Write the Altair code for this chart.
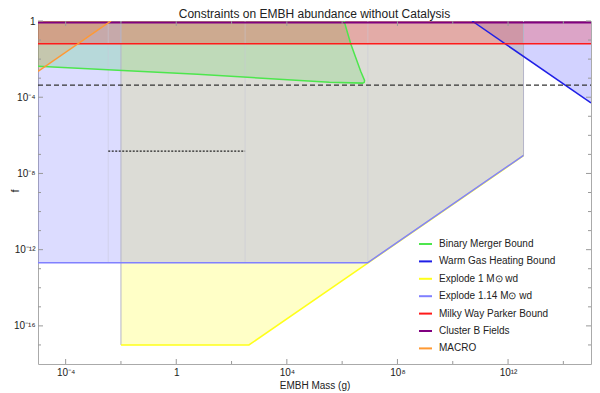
import math
import altair as alt
import pandas as pd

FONT = "Liberation Sans"
TITLE = "Constraints on EMBH abundance without Catalysis"
X_TITLE = "EMBH Mass (g)"
Y_TITLE = "f"

# ---- values (log10 of mass in g, log10 of f) ----
merger_m = [-5.0, 0.77, 5.54, 6.07, 6.31, 6.67, 6.75, 6.81]
merger_lo = [-2.38, -2.80, -3.21, -3.24, -3.25, -3.26, -3.26, -3.15]
merger_hi = [0.0, 0.0, 0.0, 0.0, -1.19, -2.64, -2.97, -3.15]
merger_path_m = [-5.0, 0.77, 5.54, 6.74, 6.80, 6.81, 6.67, 6.31, 6.07]
merger_path_f = [-2.38, -2.80, -3.21, -3.26, -3.22, -3.12, -2.64, -1.19, 0.0]

warm_m = [10.7, 15.0]
warm_f = [0.0, -4.3]

wd1_m = [-2.0, 2.63, 12.56]
wd1_f = [-17.0, -17.0, -7.07]

wd114_m = [-5.0, 6.92, 12.56]
wd114_f = [-12.69, -12.69, -7.05]

mw_m = [-5.0, 15.0]
mw_f = [-1.19, -1.19]

cl_m = [-5.0, 15.0]
cl_f = [-0.09, -0.09]

macro_m = [-5.0, -2.36]
macro_f = [-2.64, 0.0]

dash_m = [-5.0, 15.0]
dash_f = [-3.37, -3.37]

dot_m = [-2.46, 2.49]
dot_f = [-6.83, -6.83]

seam_m = [-2.46, 2.49, 6.93]

series = ["Binary Merger Bound", "Warm Gas Heating Bound", "Explode 1 M\u2299 wd",
          "Explode 1.14 M\u2299 wd", "Milky Way Parker Bound", "Cluster B Fields", "MACRO"]
line_colors = ["#4de64d", "#1f1fe6", "#ffff1a", "#8080ff", "#ff1a1a", "#800080", "#ff9933"]
fill_colors = ["#33ee33", "#3333ff", "#ffff00", "#8080ff", "#ff0000", "#800080", "#ff8000"]
fill_opac = [0.25, 0.22, 0.22, 0.28, 0.22, 0.35, 0.2]

x_major = [-4, 0, 4, 8, 12]
x_major_labels = ["10\u207b\u2074", "1", "10\u2074", "10\u2078", "10\u00b9\u00b2"]
x_minor = [-2, 2, 6, 10, 14]
y_major = [0, -4, -8, -12, -16]
y_major_labels = ["1", "10\u207b\u2074", "10\u207b\u2078", "10\u207b\u00b9\u00b2", "10\u207b\u00b9\u2076"]
y_minor = [-1, -2, -3, -5, -6, -7, -9, -10, -11, -13, -14, -15, -17]

W, H = 553, 343


def p10(v):
    return 10.0 ** v


def label_expr(exps, labels):
    s = ""
    for e, l in zip(exps, labels):
        s += f"abs(log(datum.value)/LN10 - ({e})) < 0.01 ? '{l}' : "
    return s + "''"


xaxis = alt.Axis(values=[p10(v) for v in x_major], labelExpr=label_expr(x_major, x_major_labels),
                 ticks=False, grid=False, domain=False, title=X_TITLE, labelFont=FONT,
                 labelFontSize=10, labelColor="#222", labelPadding=3, titleFont=FONT,
                 titleFontSize=10, titleFontWeight="normal", titleColor="#222", titlePadding=3,
                 labelFlush=False)
yaxis = alt.Axis(values=[p10(v) for v in y_major], labelExpr=label_expr(y_major, y_major_labels),
                 ticks=False, grid=False, domain=False, title=Y_TITLE, labelFont=FONT,
                 labelFontSize=10, labelColor="#222", labelPadding=3, titleFont=FONT,
                 titleFontSize=11, titleFontWeight="normal", titleColor="#222",
                 titleAngle=-90, titleX=-20, titleY=H / 2 - 2, titleBaseline="alphabetic",
                 titleAlign="center", labelFlush=False)
xscale = alt.Scale(type="log", domain=[1e-5, 1e15], nice=False)
yscale = alt.Scale(type="log", domain=[1e-18, 1.0], nice=False)

X = alt.X("m:Q", scale=xscale, axis=xaxis)
Y = alt.Y("f:Q", scale=yscale, axis=yaxis)

# ---- shaded regions ----
regions = [
    (merger_m, merger_lo, merger_hi),
    (warm_m, warm_f, [0.0] * len(warm_m)),
    (wd1_m, wd1_f, [0.0] * len(wd1_m)),
    (wd114_m, wd114_f, [0.0] * len(wd114_m)),
    (mw_m, mw_f, [0.0] * len(mw_m)),
    (cl_m, cl_f, [0.0] * len(cl_m)),
    (macro_m, macro_f, [0.0] * len(macro_m)),
]
layers = []
for (mm, lo, hi), col, op in zip(regions, fill_colors, fill_opac):
    df = pd.DataFrame({"m": [p10(v) for v in mm], "f": [p10(v) for v in lo],
                       "f2": [p10(v) for v in hi]})
    layers.append(
        alt.Chart(df).mark_area(color=col, opacity=op, orient="vertical", clip=True,
                                interpolate="linear")
        .encode(x=X, y=Y, y2="f2:Q")
    )

# region edges / seams
edge_df = pd.DataFrame({"m": [p10(wd1_m[0]), p10(wd1_m[-1])],
                        "f": [p10(wd1_f[0]), p10(wd1_f[-1])], "f2": [1.0, 1.0]})
layers.append(alt.Chart(edge_df).mark_rule(color="#b4b4c8", strokeWidth=1, clip=True)
              .encode(x=X, y=Y, y2="f2:Q"))
seam_df = pd.DataFrame({"m": [p10(v) for v in seam_m], "f": [p10(wd114_f[0])] * len(seam_m),
                        "f2": [1.0] * len(seam_m)})
layers.append(alt.Chart(seam_df).mark_rule(color="#c8c8d8", strokeWidth=1, opacity=0.5, clip=True)
              .encode(x=X, y=Y, y2="f2:Q"))

# ---- boundary lines (with legend) ----
paths = [
    (merger_path_m, merger_path_f),
    (warm_m, warm_f),
    (wd1_m, wd1_f),
    (wd114_m, wd114_f),
    (mw_m, mw_f),
    (cl_m, cl_f),
    (macro_m, macro_f),
]
rows = []
for name, (mm, ff) in zip(series, paths):
    for i, (a, b) in enumerate(zip(mm, ff)):
        rows.append({"series": name, "m": p10(a), "f": p10(b), "idx": i})
lines_df = pd.DataFrame(rows)

legend = alt.Legend(orient="none", legendX=380, legendY=215.5, title=None, symbolType="stroke",
                    symbolSize=169, symbolStrokeWidth=2, labelFont=FONT, labelFontSize=10,
                    labelColor="#222", labelOffset=6, rowPadding=4.4, padding=0)
layers.append(
    alt.Chart(lines_df).mark_line(strokeWidth=1.5, clip=True)
    .encode(x=X, y=Y, order="idx:Q",
            color=alt.Color("series:N", scale=alt.Scale(domain=series, range=line_colors),
                            legend=legend, sort=series))
)

# dashed and dotted reference lines
dash_df = pd.DataFrame({"m": [p10(v) for v in dash_m], "f": [p10(v) for v in dash_f]})
layers.append(alt.Chart(dash_df).mark_line(color="#333333", strokeWidth=1.2, strokeDash=[5, 3], clip=True)
              .encode(x=X, y=Y))
dot_df = pd.DataFrame({"m": [p10(v) for v in dot_m], "f": [p10(v) for v in dot_f]})
layers.append(alt.Chart(dot_df).mark_line(color="#222222", strokeWidth=1.2, strokeDash=[2, 1.5], clip=True)
              .encode(x=X, y=Y))

# ---- inward frame ticks ----
for vals, ln in ((x_major, 5), (x_minor, 3)):
    tdf = pd.DataFrame({"m": [p10(v) for v in vals]})
    layers.append(alt.Chart(tdf).mark_rule(color="#999999", strokeWidth=1)
                  .encode(x=X, y=alt.value(H), y2=alt.value(H - ln)))
    layers.append(alt.Chart(tdf).mark_rule(color="#999999", strokeWidth=1)
                  .encode(x=X, y=alt.value(0), y2=alt.value(ln)))
for vals, ln in ((y_major, 5), (y_minor, 3)):
    tdf = pd.DataFrame({"f": [p10(v) for v in vals]})
    layers.append(alt.Chart(tdf).mark_rule(color="#999999", strokeWidth=1)
                  .encode(y=Y, x=alt.value(0), x2=alt.value(ln)))
    layers.append(alt.Chart(tdf).mark_rule(color="#999999", strokeWidth=1)
                  .encode(y=Y, x=alt.value(W), x2=alt.value(W - ln)))

chart = (
    alt.layer(*layers)
    .properties(
        width=W, height=H,
        title=alt.TitleParams(TITLE, font=FONT, fontSize=12, fontWeight="normal", color="#222",
                              anchor="middle", offset=0, dy=4.5),
        autosize=alt.AutoSizeParams(type="none"),
        padding={"left": 30, "top": 13, "right": 1, "bottom": 29},
    )
    .configure_view(stroke="#aaaaaa", strokeWidth=1)
)

chart.save("out.html", embed_options={"renderer": "svg", "actions": False})
